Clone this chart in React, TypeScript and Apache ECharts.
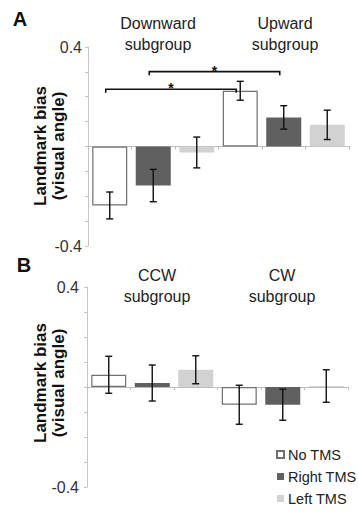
import React, { useEffect, useRef } from "react";
import * as echarts from "echarts";

// Six bars per panel: subgroup × stimulation condition
const conditions = ["No TMS", "Right TMS", "Left TMS"];
const slots = ["0", "1", "2", "3", "4", "5"];

// Panel A: downward / upward subgroups
const meansA = [-0.237, -0.157, -0.024, 0.224, 0.117, 0.087];
const errorsA = [0.054, 0.065, 0.062, 0.038, 0.047, 0.059];
const groupTitlesA = ["Downward\nsubgroup", "Upward\nsubgroup"];
// Significance brackets: [from slot, to slot, height]
const bracketsA = [
  [0, 3, 0.23],
  [1, 4, 0.301],
];

// Panel B: counter-clockwise / clockwise subgroups
const meansB = [0.049, 0.016, 0.069, -0.071, -0.071, 0.004];
const errorsB = [0.074, 0.072, 0.056, 0.078, 0.062, 0.065];
const groupTitlesB = ["CCW\nsubgroup", "CW\nsubgroup"];

const yTicks = [-0.4, 0.4];

const FONT = "'Liberation Sans', Arial, Helvetica, sans-serif";
const fills = ["#ffffff", "#606060", "#d2d2d2"];
const borders = ["#707070", "#606060", "#d2d2d2"];

function barSeries(means: number[], axis: number) {
  return conditions.map((name, c) => ({
    name,
    type: "bar",
    xAxisIndex: axis,
    yAxisIndex: axis,
    barWidth: 35,
    barGap: "-100%",
    itemStyle: { color: fills[c], borderColor: borders[c], borderWidth: c === 0 ? 1.2 : 0 },
    data: means.map((v, i) => (i % 3 === c ? v : "-")),
    z: 2,
  }));
}

function errorSeries(means: number[], errors: number[], axis: number) {
  return {
    type: "custom",
    xAxisIndex: axis,
    yAxisIndex: axis,
    encode: { x: 0, y: 1 },
    z: 5,
    data: means.map((v, i) => [i, v, errors[i]]),
    renderItem: (_p: any, api: any) => {
      const x = api.value(0);
      const v = api.value(1);
      const e = api.value(2);
      const top = api.coord([x, v + e]);
      const bot = api.coord([x, v - e]);
      const cap = 3.5;
      const st = { stroke: "#111", lineWidth: 1.4 };
      return {
        type: "group",
        children: [
          { type: "line", shape: { x1: top[0], y1: top[1], x2: bot[0], y2: bot[1] }, style: st },
          { type: "line", shape: { x1: top[0] - cap, y1: top[1], x2: top[0] + cap, y2: top[1] }, style: st },
          { type: "line", shape: { x1: bot[0] - cap, y1: bot[1], x2: bot[0] + cap, y2: bot[1] }, style: st },
        ],
      };
    },
  };
}

function bracketSeries() {
  return {
    type: "custom",
    xAxisIndex: 0,
    yAxisIndex: 0,
    encode: { x: 0, y: 2 },
    z: 6,
    data: bracketsA,
    renderItem: (_p: any, api: any) => {
      const a = api.coord([api.value(0), api.value(2)]);
      const b = api.coord([api.value(1), api.value(2)]);
      const dx = -4;
      const drop = 3.5;
      return {
        type: "group",
        children: [
          {
            type: "polyline",
            shape: {
              points: [
                [a[0] + dx, a[1] + drop],
                [a[0] + dx, a[1]],
                [b[0] + dx, b[1]],
                [b[0] + dx, b[1] + drop],
              ],
            },
            style: { stroke: "#111", lineWidth: 1.6, fill: null },
          },
          {
            type: "text",
            x: (a[0] + b[0]) / 2 + dx,
            y: a[1] - 1,
            style: {
              text: "*",
              fontSize: 14,
              fontWeight: "bold",
              fontFamily: FONT,
              fill: "#111",
              align: "center",
              verticalAlign: "middle",
            },
          },
        ],
      };
    },
  };
}

function yAxis(grid: number, margin: number) {
  return {
    type: "value",
    gridIndex: grid,
    min: -0.4,
    max: 0.4,
    interval: 0.1,
    splitLine: { show: false },
    axisLine: { show: true, lineStyle: { color: "#c4c4c4", width: 1 } },
    axisTick: { show: true, length: 3, lineStyle: { color: "#c4c4c4" } },
    axisLabel: {
      margin,
      fontSize: 16,
      fontFamily: FONT,
      color: "#333",
      formatter: (v: number) => {
        const hit = yTicks.find((t) => Math.abs(t - v) < 1e-6);
        return hit === undefined ? "" : hit.toFixed(1);
      },
    },
  };
}

function xAxis(grid: number) {
  return {
    type: "category",
    gridIndex: grid,
    data: slots,
    axisLine: { show: true, onZero: true, lineStyle: { color: "#bdbdbd", width: 1.2 } },
    axisTick: { show: true, length: 3, interval: 0, lineStyle: { color: "#bdbdbd" } },
    axisLabel: { show: false },
  };
}

function titleText(text: string, x: number, y: number) {
  return {
    type: "text",
    x,
    y,
    style: {
      text,
      fontSize: 16,
      lineHeight: 21,
      fontFamily: FONT,
      fill: "#222",
      align: "center",
      verticalAlign: "middle",
    },
  };
}

function axisTitle(y: number) {
  return {
    type: "text",
    x: 49,
    y,
    rotation: Math.PI / 2,
    style: {
      text: "Landmark bias\n(visual angle)",
      fontSize: 17,
      lineHeight: 18,
      fontWeight: "bold",
      fontFamily: FONT,
      fill: "#111",
      align: "center",
      verticalAlign: "middle",
    },
  };
}

function panelLetter(text: string, x: number, y: number) {
  return {
    type: "text",
    x,
    y,
    style: {
      text,
      fontSize: 20,
      fontWeight: "bold",
      fontFamily: FONT,
      fill: "#111",
      align: "center",
      verticalAlign: "middle",
    },
  };
}

export default function App() {
  const ref = useRef<HTMLDivElement>(null);

  useEffect(() => {
    if (!ref.current) return;
    const chart = echarts.init(ref.current, null, { renderer: "svg" });
    chart.setOption({
      animation: false,
      backgroundColor: "#ffffff",
      grid: [
        { left: 88, top: 47, width: 261, height: 199 },
        { left: 87, top: 287, width: 261, height: 200 },
      ],
      xAxis: [xAxis(0), xAxis(1)],
      yAxis: [yAxis(0, 6), yAxis(1, 8)],
      legend: {
        orient: "vertical",
        left: 271,
        top: 442,
        itemWidth: 7,
        itemHeight: 7,
        itemGap: 7,
        icon: "rect",
        data: conditions,
        textStyle: { fontSize: 14.5, fontFamily: FONT, color: "#222", padding: [0, 0, 0, -1] },
        selectedMode: false,
      },
      graphic: [
        panelLetter("A", 20, 19),
        panelLetter("B", 24, 265),
        titleText(groupTitlesA[0], 158, 34),
        titleText(groupTitlesA[1], 285, 34),
        titleText(groupTitlesB[0], 157, 286),
        titleText(groupTitlesB[1], 282, 286),
        axisTitle(146),
        axisTitle(383),
      ],
      series: [
        ...barSeries(meansA, 0),
        ...barSeries(meansB, 1),
        errorSeries(meansA, errorsA, 0),
        errorSeries(meansB, errorsB, 1),
        bracketSeries(),
      ],
    });
    return () => chart.dispose();
  }, []);

  return (
    <div
      ref={ref}
      style={{ position: "fixed", left: 0, top: 0, width: 358, height: 517 }}
    />
  );
}
